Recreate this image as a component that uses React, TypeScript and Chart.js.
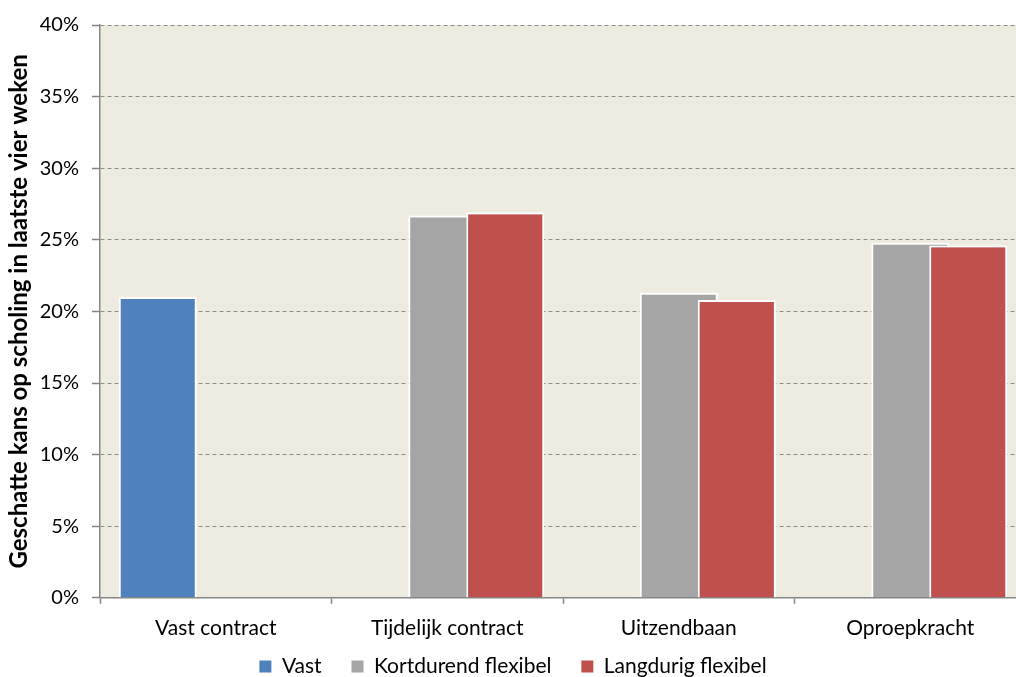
import React, { useEffect, useRef } from "react";
import { Chart, registerables } from "chart.js";

Chart.register(...registerables);

const categories = ["Vast contract", "Tijdelijk contract", "Uitzendbaan", "Oproepkracht"];
const vast = [21.0, null, null, null];
const kortdurend = [null, 26.7, 21.3, 24.8];
const langdurig = [null, 26.9, 20.8, 24.6];
const seriesNames = ["Vast", "Kortdurend flexibel", "Langdurig flexibel"];
const yTicks = [0, 5, 10, 15, 20, 25, 30, 35, 40];
const yTitle = "Geschatte kans op scholing in laatste vier weken";

const FONT = "Lato";
const W = 1026;
const H = 687;

const bgPlugin = {
  id: "plotBg",
  beforeDraw(chart: any) {
    const { ctx, chartArea } = chart;
    ctx.save();
    ctx.fillStyle = "#EEECE1";
    ctx.fillRect(chartArea.left, chartArea.top, chartArea.right - chartArea.left, chartArea.bottom - chartArea.top);
    ctx.restore();
  },
};

// Excel draws later series on top of earlier ones when bars overlap
const overlapPlugin = {
  id: "redOnTop",
  afterDatasetsDraw(chart: any) {
    const meta = chart.getDatasetMeta(2);
    if (meta && meta.controller) meta.controller.draw();
  },
};

export default function App() {
  const ref = useRef<HTMLCanvasElement>(null);
  useEffect(() => {
    if (!ref.current) return;
    const chart = new Chart(ref.current, {
      type: "bar",
      data: {
        labels: categories,
        datasets: [
          { label: seriesNames[0], data: vast, backgroundColor: "#4F81BD", borderColor: "#FFFFFF", borderWidth: 2 },
          { label: seriesNames[1], data: kortdurend, backgroundColor: "#A5A5A5", borderColor: "#FFFFFF", borderWidth: 2 },
          { label: seriesNames[2], data: langdurig, backgroundColor: "#C0504D", borderColor: "#FFFFFF", borderWidth: 2 },
        ],
      },
      options: {
        animation: false,
        responsive: false,
        devicePixelRatio: 1,
        categoryPercentage: 0.7516,
        barPercentage: 1.345,
        layout: { padding: { top: 25, left: 0, right: 0, bottom: 0 } },
        plugins: {
          tooltip: { enabled: false },
          legend: {
            position: "bottom",
            labels: {
              font: { family: FONT, size: 21 },
              color: "#000",
              boxWidth: 12,
              boxHeight: 12,
              padding: 3,
              generateLabels: (c: any) =>
                c.data.datasets.map((ds: any, i: number) => ({
                  text: i < c.data.datasets.length - 1 ? ds.label + "     " : ds.label,
                  fillStyle: ds.backgroundColor,
                  strokeStyle: ds.backgroundColor,
                  lineWidth: 0,
                  hidden: false,
                  datasetIndex: i,
                  fontColor: "#000",
                })),
            },
          },
        },
        scales: {
          x: {
            grid: {
              display: true,
              offset: true,
              drawOnChartArea: false,
              drawTicks: true,
              tickLength: 6,
              tickColor: "#868686",
              tickWidth: 1.5,
            },
            border: { display: true, color: "#868686", width: 1.5 },
            ticks: { font: { family: FONT, size: 21 }, color: "#000", padding: 12 },
          },
          y: {
            min: 0,
            max: 40,
            afterBuildTicks: (s: any) => {
              s.ticks = yTicks.map((v) => ({ value: v }));
            },
            grid: {
              color: (c: any) => (c.tick && c.tick.value === 0 ? "rgba(0,0,0,0)" : "#8C8C8C"),
              lineWidth: 1,
              drawTicks: true,
              tickLength: 8,
              tickColor: "#868686",
              tickWidth: 1.5,
            },
            border: { display: true, color: "#868686", width: 1.5, dash: [4, 3] },
            ticks: {
              font: { family: FONT, size: 20 },
              color: "#000",
              padding: 13,
              callback: (v: any) => v + "%",
            },
            title: {
              display: true,
              text: yTitle,
              font: { family: FONT, size: 24, weight: "bold" },
              color: "#000",
              padding: { top: 5, bottom: 0 },
            },
            afterFit: (s: any) => {
              s.width = 100;
            },
          },
        },
      },
      plugins: [bgPlugin, overlapPlugin],
    });
    return () => chart.destroy();
  }, []);
  return (
    <div style={{ position: "fixed", left: 0, top: 0, width: 1016, height: 677, overflow: "hidden", background: "#fff" }}>
      <canvas ref={ref} width={W} height={H} style={{ display: "block", width: W, height: H }} />
    </div>
  );
}
